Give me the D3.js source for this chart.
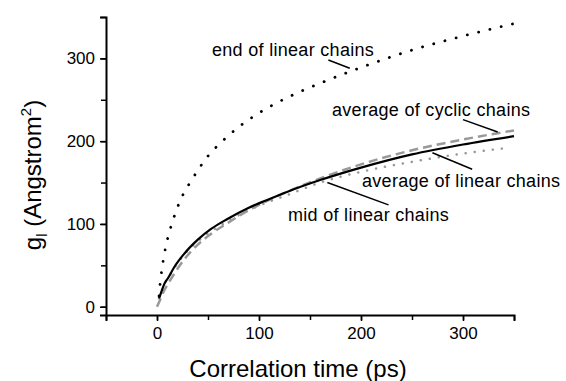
<!DOCTYPE html>
<html>
<head>
<meta charset="utf-8">
<script src="https://d3js.org/d3.v7.min.js"></script>
<style>
    body { margin: 0; background: #fff; }
    text { font-family: "Liberation Sans", Arial, sans-serif; fill: #000; }
</style>
</head>
<body>
<div id="vis"></div>
<script>
// Data (time in ps, g_l in Angstrom^2)
var endT = [2, 3, 4, 6, 8, 11, 14, 22, 35, 50, 65, 80, 100, 130, 160, 200, 250, 300, 350];
var endG = [13, 27, 38, 55, 69, 85, 98, 126, 155, 182, 201, 217, 234, 254, 270, 289, 310, 327, 342];

var avgLinT = [2, 4, 7, 11, 17, 26, 40, 53, 69, 89, 108, 128, 160, 200, 250, 300, 350];
var avgLinG = [10, 17, 27, 35, 48, 63, 81, 94, 106, 119, 129, 139, 153, 168, 184, 196, 206];

var cycT = [0, 3, 6, 10, 17, 26, 40, 53, 69, 89, 108, 128, 160, 200, 250, 300, 350];
var cycG = [0, 8, 17, 26, 40, 56, 75, 88, 101, 116, 128, 139, 155, 172, 189, 202, 213];

var midT = [2, 4, 7, 11, 17, 26, 40, 53, 69, 89, 108, 128, 160, 200, 250, 300, 345];
var midG = [10, 17, 27, 35, 47, 62, 79, 91, 103, 116, 126, 135, 150, 163, 175, 185, 192];

var xTicks = [0, 100, 200, 300];
var yTicks = [0, 100, 200, 300];

(function() {
    var width = 566,
        height = 381,
        margin = { top: 17, right: 52, bottom: 66, left: 106 };

    var svg = d3.select("#vis").append("svg")
        .attr("width", width)
        .attr("height", height);

    var x = d3.scaleLinear()
        .domain([-50, 350])
        .range([margin.left, width - margin.right]);

    var y = d3.scaleLinear()
        .domain([-10, 350])
        .range([height - margin.bottom, margin.top]);

    var line = d3.line()
        .x(function(d) { return x(d[0]); })
        .y(function(d) { return y(d[1]); })
        .curve(d3.curveMonotoneX);

    function pairs(ts, gs) {
        return ts.map(function(t, i) { return [t, gs[i]]; });
    }

    // curves, grey ones underneath
    svg.append("path")
        .datum(pairs(midT, midG))
        .attr("d", line)
        .attr("fill", "none")
        .attr("stroke", "#999")
        .attr("stroke-width", 2.5)
        .attr("stroke-linecap", "round")
        .attr("stroke-dasharray", "0.1 9");

    svg.append("path")
        .datum(pairs(cycT, cycG))
        .attr("d", line)
        .attr("fill", "none")
        .attr("stroke", "#999")
        .attr("stroke-width", 2.5)
        .attr("stroke-dasharray", "9 5");

    svg.append("path")
        .datum(pairs(avgLinT, avgLinG))
        .attr("d", line)
        .attr("fill", "none")
        .attr("stroke", "#000")
        .attr("stroke-width", 2.2);

    svg.append("path")
        .datum(pairs(endT, endG))
        .attr("d", line)
        .attr("fill", "none")
        .attr("stroke", "#000")
        .attr("stroke-width", 2.8)
        .attr("stroke-linecap", "round")
        .attr("stroke-dasharray", "0.1 11.5");

    // axes
    var xAxis = svg.append("g")
        .attr("transform", "translate(0," + y(-10) + ")");
    xAxis.append("g")
        .call(d3.axisBottom(x).tickValues(d3.range(-50, 351, 50)).tickSize(5).tickFormat(""))
        .call(function(g) { g.select(".domain").remove(); })
        .selectAll("line").attr("stroke-width", 1.5);
    xAxis.append("g")
        .call(d3.axisBottom(x).tickValues(xTicks).tickSize(6).tickPadding(6))
        .call(function(g) {
            g.select(".domain").attr("stroke-width", 2);
            g.selectAll("line").attr("stroke-width", 1.5);
            g.selectAll("text").attr("font-size", 17).attr("font-family", null);
        });

    var yAxis = svg.append("g")
        .attr("transform", "translate(" + x(-50) + ",0)");
    yAxis.append("g")
        .call(d3.axisLeft(y).tickValues(d3.range(0, 351, 50)).tickSize(5).tickFormat(""))
        .call(function(g) { g.select(".domain").remove(); })
        .selectAll("line").attr("stroke-width", 1.5);
    yAxis.append("g")
        .call(d3.axisLeft(y).tickValues(yTicks).tickSize(6).tickPadding(5))
        .call(function(g) {
            g.select(".domain").attr("stroke-width", 2);
            g.selectAll("line").attr("stroke-width", 1.5);
            g.selectAll("text").attr("font-size", 17).attr("font-family", null);
        });

    // axis titles
    svg.append("text")
        .attr("x", 298)
        .attr("y", 377)
        .attr("text-anchor", "middle")
        .attr("font-size", 24)
        .text("Correlation time (ps)");

    var yTitle = svg.append("text")
        .attr("transform", "translate(41,175) rotate(-90)")
        .attr("text-anchor", "middle")
        .attr("font-size", 24);
    yTitle.append("tspan").text("g");
    yTitle.append("tspan").attr("font-size", 15).attr("dy", 6).text("l");
    yTitle.append("tspan").attr("dy", -6).text(" (Angstrom");
    yTitle.append("tspan").attr("font-size", 15).attr("dy", -10).text("2");
    yTitle.append("tspan").attr("dy", 10).text(")");

    // annotations with leader lines
    var notes = [
        { text: "end of linear chains", tx: 212, ty: 56, t1: 168, g1: 298, t2: 189, g2: 288 },
        { text: "average of cyclic chains", tx: 332, ty: 116, t1: 300, g1: 226, t2: 334, g2: 211 },
        { text: "average of linear chains", tx: 362, ty: 187, t1: 270, g1: 186, t2: 309, g2: 166 },
        { text: "mid of linear chains", tx: 288, ty: 221, t1: 167, g1: 150, t2: 227, g2: 123 }
    ];

    svg.selectAll(".note-line")
        .data(notes)
        .enter().append("line")
        .attr("x1", function(d) { return x(d.t1); })
        .attr("y1", function(d) { return y(d.g1); })
        .attr("x2", function(d) { return x(d.t2); })
        .attr("y2", function(d) { return y(d.g2); })
        .attr("stroke", "#000")
        .attr("stroke-width", 1.5);

    svg.selectAll(".note")
        .data(notes)
        .enter().append("text")
        .attr("x", function(d) { return d.tx; })
        .attr("y", function(d) { return d.ty; })
        .attr("font-size", 18)
        .attr("letter-spacing", 0.3)
        .text(function(d) { return d.text; });
})();
</script>
</body>
</html>
